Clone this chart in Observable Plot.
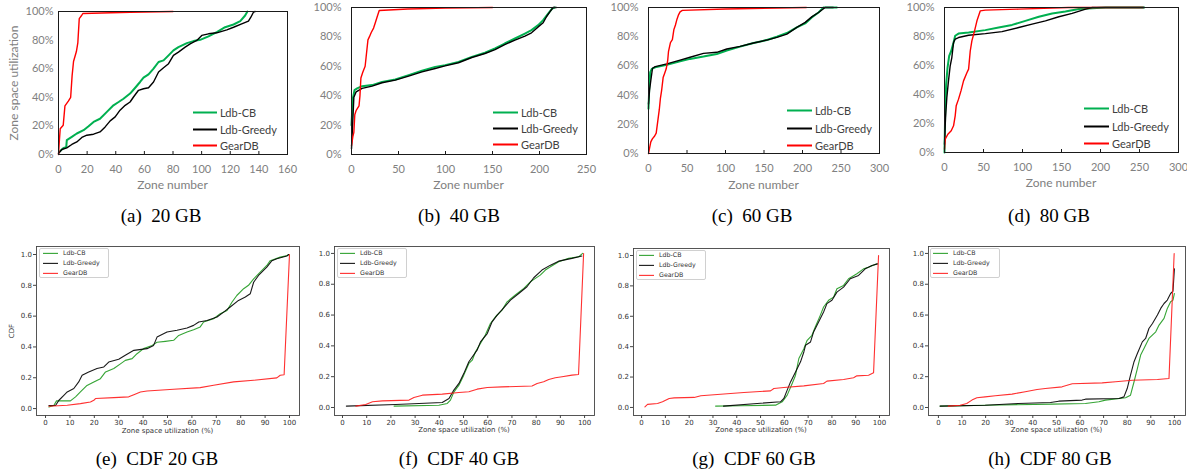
<!DOCTYPE html>
<html><head><meta charset="utf-8">
<script src="https://cdn.jsdelivr.net/npm/d3@7"></script>
<script src="https://cdn.jsdelivr.net/npm/@observablehq/plot@0.6"></script>
<style>
body{margin:0;background:#fff}
#root{position:relative;width:1187px;height:469px;overflow:hidden;background:#fff}
.chart{position:absolute}
.chart svg{overflow:visible}
.cap{position:absolute;font-family:"Liberation Serif","Times New Roman",serif;font-size:19px;color:#000;white-space:pre;transform:translate(-50%,-50%);line-height:1}
.ttl{position:absolute;white-space:nowrap;transform:translate(-50%,-50%);line-height:1}
</style></head><body><div id="root"></div>
<script>
const seriesNames = ["Ldb-CB", "Ldb-Greedy", "GearDB"];
const topColors = ["#00b050", "#000000", "#ff0000"];
const cdfColors = ["#1f9a1f", "#000000", "#ff1a1a"];

const zoneTicks160 = [0, 20, 40, 60, 80, 100, 120, 140, 160];
const zoneTicks250 = [0, 50, 100, 150, 200, 250];
const zoneTicks300 = [0, 50, 100, 150, 200, 250, 300];
const utilTicks = [0, 20, 40, 60, 80, 100];
const cdfXTicks = [0, 10, 20, 30, 40, 50, 60, 70, 80, 90, 100];
const cdfYTicks = [0, 0.2, 0.4, 0.6, 0.8, 1.0];
const captionsTop = ["(a)  20 GB", "(b)  40 GB", "(c)  60 GB", "(d)  80 GB"];
const captionsBottom = ["(e)  CDF 20 GB", "(f)  CDF 40 GB", "(g)  CDF 60 GB", "(h)  CDF 80 GB"];

// [zone number, zone space utilization %]
const zone20_cb = [[0.7,2],[3.5,4.6],[5.4,5],[5.8,10],[9.3,12.3],[12.8,14.7],[17.5,17],[21,19.8],[24.5,22.8],[29,25],[33.8,29.8],[38.4,34.4],[42,36.7],[45.4,39],[50,42.6],[53.6,46.7],[57,50.7],[59.4,53.7],[62.9,56],[66.4,60],[69.9,64.7],[73.4,65.8],[76.9,69.3],[80.3,72.8],[83.8,75.1],[89.7,77.9],[94.3,79.3],[99,80.2],[104.8,82.6],[110.6,85.6],[116.4,89],[122.3,90.9],[127,93.3],[130.4,97.2],[132,100]];
const zone20_greedy = [[0,0.7],[2.3,3.5],[5.8,4.6],[9.3,7],[12.8,8.8],[16.3,11.9],[19.8,13.5],[24.5,14.2],[29,15.8],[32.6,19.3],[36.1,23.5],[39.6,26.3],[43,31],[46.6,34.4],[50,36.7],[52.4,40.2],[55.9,44.9],[59.4,46],[62.9,46.7],[66.4,50.7],[69.9,57.7],[73.4,60.7],[76.9,63.5],[80.3,69.3],[83.8,71.6],[88.5,75.1],[92,77.4],[96.6,79.8],[100.1,83.3],[104.8,84.4],[110.6,85.1],[117.6,87.2],[122.3,89],[128,91.4],[132.7,93.3],[134.4,96],[136.2,99.5],[137.4,100]];
const zone20_gear = [[0,0],[0.5,8],[1.2,18],[3.3,20.5],[4.5,34],[7,37.5],[8.5,40],[9.5,55],[10.5,65],[12.5,72],[13.5,78],[14.5,95],[16,97],[17,98.6],[30,99],[50,99.5],[80,100]];

const zone40_cb = [[0,20],[1.4,38],[3.2,43.8],[6,45],[11.3,46.5],[21.9,47.2],[32.5,49.4],[46.6,51],[60.8,54],[75,57],[89,59.6],[99.6,60.8],[113.8,63],[128,66.4],[142,69.2],[152.7,72.1],[163,75.5],[173.9,78.9],[184.5,82.3],[191.5,84.6],[198.6,88],[203.9,91.4],[209.2,95.9],[213.4,99.3],[216.3,100]];
const zone40_greedy = [[0,4],[1.4,23],[2.5,39],[4.9,42.6],[11.3,45],[21.9,46.5],[32.5,48.8],[46.6,50.6],[60.8,53.3],[75,56.2],[89,58.5],[99.6,60.3],[113.8,62.4],[128,66],[142,68.7],[152.7,71.4],[163,74.8],[173.9,77.8],[184.5,80.5],[191.5,82.8],[198.6,86.8],[203.9,89.6],[207.4,93.7],[211,97],[214.5,100],[218,100]];
const zone40_gear = [[0,6],[1.4,12],[2.5,15],[3.5,27],[5,30],[8,33],[9,40],[10,52],[12,56],[14.5,60],[15.5,66],[17.5,78],[19,80],[21,83],[23.5,86],[25.5,90],[27.5,94],[29.5,98],[60,99],[100,99.6],[150,100]];

const zone60_cb = [[0,30.7],[0.9,44],[2.2,55.7],[4.3,58],[8.7,59],[23.8,60.7],[41,63.2],[54,64.8],[71.4,66.4],[88.7,68.2],[101.7,70.5],[119,73.2],[136.4,75.7],[153.7,77.7],[166.7,80],[179.7,82.5],[192.6,86.4],[203.5,89.1],[212,93.2],[220.8,96.6],[227.3,100],[244.6,100]];
const zone60_greedy = [[0,34],[1.3,43.2],[3,50],[5.2,58.4],[8.7,59.5],[23.8,61.4],[41,64],[54,65.9],[71.4,68.6],[88.7,69.3],[101.7,71.6],[119,73.4],[136.4,75.7],[153.7,77.7],[166.7,79.5],[179.7,81.8],[192.6,86.4],[203.5,89.8],[212,93.6],[220.8,96.6],[229.4,100],[240,100]];
const zone60_gear = [[0,0],[1.5,4],[3,8],[5,10],[8,12],[10,14],[12,22],[14,30],[15.5,38],[17,43],[19,52],[21,55],[23,58],[25,64],[26,70],[28.5,76],[31,78],[33,85],[35,88],[37,92],[39,95],[41,97],[44,98],[100,99],[205,100]];

const zone80_cb = [[0,0],[0.9,28.7],[2.1,47],[3.9,58.6],[6,66.7],[8.6,70],[11.6,75.9],[13.7,80.5],[18,82],[30.9,82.8],[52.3,84.4],[69.4,86.2],[86.6,88],[103.7,90.8],[120.9,93.6],[138,95.9],[155,97.2],[172.3,98.9],[189.5,99.5],[206.6,100],[255.9,100]];
const zone80_greedy = [[0,5.7],[1.3,24],[3,38],[5.1,49.4],[7.3,59.8],[9.4,65.5],[11.6,75.9],[13.7,78.2],[18,79.3],[30.9,80.9],[52.3,82],[73.7,83.4],[95.2,86.2],[112.3,88.5],[129.4,90.8],[146.6,93.6],[163.7,95.9],[180.9,98.9],[189.5,100],[255.9,100]];
const zone80_gear = [[0,2.3],[0.9,9.2],[4.3,12.6],[8.6,15],[11.6,18.4],[13.7,25.3],[15,32.2],[18,36.8],[21.4,43],[24.4,49.4],[28.7,55],[30.9,57.5],[33,70],[35.1,77],[38.6,84],[41.6,90.8],[45.9,97.7],[52.3,98.2],[95.2,98.9],[159,100],[254.6,100]];

// [zone space utilization %, CDF]
const cdf20_cb = [[1.4,0.01],[3.4,0.02],[4.5,0.05],[10.2,0.05],[12.3,0.076],[14.3,0.108],[17,0.15],[19.8,0.173],[22.5,0.194],[24.6,0.238],[28,0.26],[30.7,0.29],[32.7,0.313],[35.5,0.324],[37.5,0.356],[40.2,0.389],[43.7,0.41],[45.7,0.43],[49.1,0.436],[52.5,0.443],[54.6,0.475],[58,0.497],[60.7,0.512],[63.4,0.53],[64.8,0.562],[68.9,0.583],[71.6,0.616],[74.4,0.637],[76.4,0.69],[78.4,0.734],[81.2,0.778],[83.2,0.8],[85.3,0.842],[88,0.886],[90.7,0.929],[92.1,0.96],[96.2,0.983],[99.2,0.994],[99.6,1.0]];
const cdf20_greedy = [[1.4,0.02],[4.1,0.02],[5.5,0.054],[7.5,0.086],[8.9,0.108],[11.6,0.13],[13.6,0.173],[15,0.216],[17.7,0.238],[21.1,0.26],[23.9,0.27],[25.9,0.302],[30,0.32],[32.7,0.346],[36.2,0.378],[41.6,0.389],[44.3,0.41],[45.7,0.464],[49.8,0.497],[53.9,0.508],[58,0.523],[60.7,0.54],[62.8,0.562],[66.2,0.572],[70.3,0.594],[73,0.626],[75.7,0.659],[79.1,0.702],[81.9,0.724],[83.9,0.745],[85.3,0.82],[87.3,0.864],[90.7,0.918],[92.8,0.96],[94.8,0.972],[98.9,0.99],[99.7,1.0]];
const cdf20_gear = [[1.4,0.015],[8.9,0.022],[14.3,0.032],[18.4,0.043],[19.8,0.054],[20.5,0.065],[28,0.071],[34.1,0.076],[36.2,0.09],[38.9,0.108],[41.6,0.114],[52.5,0.125],[63.4,0.136],[68.9,0.151],[77.1,0.173],[85.3,0.184],[94.8,0.199],[96.2,0.216],[97.8,0.22],[100,1.0]];

const cdf40_cb = [[21.3,0.009],[39.8,0.015],[43.3,0.026],[44.6,0.048],[46,0.1],[48.1,0.145],[50.1,0.21],[52.2,0.286],[53.6,0.307],[54.9,0.36],[57,0.416],[59,0.47],[61.1,0.545],[63.2,0.589],[65.9,0.632],[68,0.686],[71.4,0.73],[74.9,0.773],[77.6,0.816],[79.7,0.838],[81.7,0.859],[83.8,0.892],[85.9,0.913],[89.3,0.946],[93.4,0.968],[97.5,0.978],[99.2,1.0]];
const cdf40_greedy = [[1.6,0.009],[22,0.019],[41.2,0.032],[44,0.058],[46,0.113],[48.1,0.156],[50.1,0.22],[52.2,0.297],[55.6,0.372],[57,0.426],[59.8,0.48],[61.8,0.556],[63.9,0.6],[66.6,0.647],[69.4,0.697],[72.8,0.74],[76.2,0.784],[79,0.842],[82.4,0.892],[85.9,0.924],[89.3,0.95],[94.8,0.968],[98.9,0.983]];
const cdf40_gear = [[5.5,0.009],[9.6,0.019],[12.4,0.037],[16.5,0.043],[27.5,0.048],[29.5,0.065],[33,0.08],[41.2,0.087],[48.1,0.097],[52.2,0.102],[55.6,0.119],[59.8,0.13],[65.9,0.134],[78.3,0.139],[80.4,0.156],[83.1,0.167],[85.2,0.182],[87.9,0.193],[90.7,0.2],[94.8,0.21],[97.5,0.214],[99.6,1.0]];

const cdf60_cb = [[31.1,0.009],[41.6,0.011],[56.3,0.015],[59.1,0.037],[61.2,0.081],[63.3,0.158],[64.7,0.212],[66.1,0.322],[68.2,0.387],[69.6,0.442],[71.6,0.475],[73,0.53],[75.1,0.606],[76.5,0.661],[78.6,0.705],[80.7,0.726],[82.1,0.781],[84.9,0.803],[87,0.847],[90.5,0.88],[93.3,0.912],[95.4,0.923],[98.9,0.945]];
const cdf60_greedy = [[34.4,0.009],[48.6,0.026],[58.4,0.037],[59.8,0.059],[61.2,0.114],[62.6,0.168],[64.7,0.234],[66.8,0.3],[68.2,0.365],[68.9,0.409],[71,0.431],[72.3,0.497],[74.4,0.562],[76.5,0.628],[77.9,0.683],[80,0.705],[82.1,0.759],[84.9,0.792],[87.7,0.847],[91.2,0.869],[94,0.912],[96.8,0.934],[99.2,0.945]];
const cdf60_gear = [[1.4,0.004],[2.5,0.02],[6.7,0.026],[8.8,0.037],[11.6,0.059],[13.7,0.063],[22.1,0.066],[24.9,0.077],[37.4,0.092],[43,0.098],[54.2,0.109],[55.6,0.125],[59.8,0.131],[68.2,0.142],[76.5,0.158],[77.9,0.173],[84.9,0.184],[89.1,0.195],[90.5,0.208],[95.4,0.212],[97.5,0.228],[99.6,1.0]];

const cdf80_cb = [[0.7,0.009],[19.8,0.015],[48.2,0.022],[62.3,0.026],[68,0.037],[70.8,0.048],[79.3,0.063],[81.4,0.08],[82.9,0.167],[84.3,0.253],[85.7,0.34],[87.1,0.383],[89.2,0.448],[92.1,0.491],[93.5,0.535],[95.6,0.578],[97,0.643],[98.4,0.686],[99.4,0.697],[100,0.74]];
const cdf80_greedy = [[0.7,0.009],[19.8,0.015],[34,0.026],[47.5,0.032],[51,0.041],[60.9,0.048],[62.3,0.054],[76.5,0.058],[78.6,0.069],[80,0.123],[81.4,0.21],[82.9,0.297],[84.3,0.35],[86.4,0.426],[87.8,0.448],[89.2,0.513],[90.7,0.545],[92.8,0.6],[94.2,0.643],[95.6,0.675],[97,0.697],[98.4,0.74],[99.4,0.755],[100,0.9]];
const cdf80_gear = [[4.2,0.009],[9.2,0.015],[12,0.026],[14.2,0.048],[16.3,0.063],[19.8,0.069],[24.1,0.076],[31.2,0.087],[36.8,0.102],[41.8,0.117],[45.3,0.123],[52.4,0.134],[56.7,0.154],[69.4,0.16],[75.1,0.167],[82.2,0.177],[92.8,0.182],[97.7,0.188],[99.9,1.0]];

const root = document.getElementById("root");
const rows = (pairs) => pairs.map(([x, y]) => ({x, y}));

function place(el, left, top) {
  const d = document.createElement("div");
  d.className = "chart";
  d.style.left = left + "px"; d.style.top = top + "px";
  d.append(el); root.append(d);
}
function text(str, cls, x, y, css) {
  const d = document.createElement("div");
  d.className = cls; d.textContent = str;
  d.style.left = x + "px"; d.style.top = y + "px";
  if (css) d.style.cssText += css;
  root.append(d);
}
function legendRows(x, ys, lineLen, gap, colors, widths, font, size, color) {
  ys.forEach((y, i) => {
    const row = document.createElement("div");
    row.style.cssText = `position:absolute;left:${x}px;top:${y}px;transform:translateY(-50%);display:flex;align-items:center;white-space:nowrap;font-family:${font};font-size:${size}px;color:${color};line-height:1`;
    const sw = document.createElement("span");
    sw.style.cssText = `display:inline-block;width:${lineLen}px;height:${widths[i]}px;background:${colors[i]};margin-right:${gap}px`;
    row.append(sw, seriesNames[i]);
    root.append(row);
  });
}

const topWidths = [2, 1.4, 1.4];
function topChart({left, top, width, height, mt, mr, mb, ml, xMax, xTicks, series, pad}) {
  const svg = Plot.plot({
    width, height, marginTop: mt, marginRight: mr, marginBottom: mb, marginLeft: ml,
    x: {domain: [0, xMax], label: null},
    y: {domain: [0, 100], label: null},
    style: {fontFamily: "Lato, 'Open Sans', sans-serif", fontSize: "11px", background: "transparent"},
    marks: [
      ...series.map((s, i) => Plot.line(rows(s), {x: "x", y: "y", stroke: topColors[i], strokeWidth: topWidths[i]})),
      Plot.frame({stroke: "#1a1a1a", strokeWidth: 1}),
      Plot.axisX(xTicks, {tickSize: -3, tickPadding: 14, stroke: "#1a1a1a", fill: "#808080", label: null}),
      Plot.axisY(utilTicks, {tickSize: 0, tickPadding: pad, fill: "#808080", tickFormat: d => d + "%", label: null})
    ]
  });
  place(svg, left, top);
}

const cdfWidths = [1.1, 1.1, 1.1];
function cdfChart({left, top, width, height, mt, mr, mb, ml, xDomain, yDomain, series}) {
  const svg = Plot.plot({
    width, height, marginTop: mt, marginRight: mr, marginBottom: mb, marginLeft: ml,
    x: {domain: xDomain, label: null},
    y: {domain: yDomain, label: null},
    style: {fontFamily: "'DejaVu Sans', sans-serif", fontSize: "7px", background: "transparent"},
    marks: [
      ...series.map((s, i) => Plot.line(rows(s), {x: "x", y: "y", stroke: cdfColors[i], strokeWidth: cdfWidths[i], strokeOpacity: 0.9})),
      Plot.frame({stroke: "#444", strokeWidth: 0.9}),
      Plot.axisX(cdfXTicks, {tickSize: 3, tickPadding: 1.5, stroke: "#444", fill: "#333", label: null}),
      Plot.axisY(cdfYTicks, {tickSize: 3, tickPadding: 1.5, stroke: "#444", fill: "#333", tickFormat: d3.format(".1f"), label: null})
    ]
  });
  place(svg, left, top);
}

// ---- top row ----
topChart({left: 0, top: 0, width: 295, height: 200, mt: 11, mr: 8, mb: 46, ml: 58, xMax: 160, xTicks: zoneTicks160, series: [zone20_cb, zone20_greedy, zone20_gear], pad: 5});
topChart({left: 295, top: 0, width: 295, height: 200, mt: 7, mr: 4, mb: 46, ml: 56, xMax: 250, xTicks: zoneTicks250, series: [zone40_cb, zone40_greedy, zone40_gear], pad: 10});
topChart({left: 590, top: 0, width: 295, height: 200, mt: 7, mr: 6, mb: 47, ml: 58, xMax: 300, xTicks: zoneTicks300, series: [zone60_cb, zone60_greedy, zone60_gear], pad: 10});
topChart({left: 885, top: 0, width: 302, height: 200, mt: 7, mr: 9, mb: 48, ml: 59, xMax: 300, xTicks: zoneTicks300, series: [zone80_cb, zone80_greedy, zone80_gear], pad: 10});

const topFont = "Lato, 'Open Sans', sans-serif";
[[172.5, 185], [468.5, 185], [763.5, 185], [1061, 183]].forEach(([x, y]) =>
  text("Zone number", "ttl", x, y, `font-family:${topFont};font-size:12px;color:#808080`));
text("Zone space utilization", "ttl", 14, 83, `font-family:${topFont};font-size:12px;color:#808080;transform:translate(-50%,-50%) rotate(-90deg)`);

legendRows(193, [112, 129, 145], 24, 3, topColors, [2, 2, 2], topFont, 11, "#404040");
legendRows(493, [112, 128, 144], 25, 3, topColors, [2, 2, 2], topFont, 11, "#404040");
legendRows(787, [110, 128, 145], 25, 3, topColors, [2, 2, 2], topFont, 11, "#404040");
legendRows(1084, [108, 126, 143], 25, 3, topColors, [2, 2, 2], topFont, 11, "#404040");

[[161, 215], [459, 215], [752, 215], [1049, 215]].forEach(([x, y], i) => text(captionsTop[i], "cap", x, y));

// ---- bottom row ----
cdfChart({left: 0, top: 235, width: 300, height: 205, mt: 11, mr: 1, mb: 25, ml: 36, xDomain: [-3.7, 104.1], yDomain: [-0.045, 1.052], series: [cdf20_cb, cdf20_greedy, cdf20_gear]});
cdfChart({left: 300, top: 235, width: 300, height: 205, mt: 11, mr: 6, mb: 25, ml: 34, xDomain: [-3.3, 104.1], yDomain: [-0.052, 1.045], series: [cdf40_cb, cdf40_greedy, cdf40_gear]});
cdfChart({left: 600, top: 235, width: 290, height: 205, mt: 13, mr: 1, mb: 25, ml: 33, xDomain: [-3.4, 104.2], yDomain: [-0.053, 1.046], series: [cdf60_cb, cdf60_greedy, cdf60_gear]});
cdfChart({left: 895, top: 235, width: 292, height: 205, mt: 11, mr: 2, mb: 25, ml: 33, xDomain: [-4.2, 104.7], yDomain: [-0.052, 1.045], series: [cdf80_cb, cdf80_greedy, cdf80_gear]});

const cdfFont = "'DejaVu Sans', sans-serif";
[[167.5, 431], [464, 430], [761, 430], [1056.5, 430]].forEach(([x, y]) =>
  text("Zone space utilization (%)", "ttl", x, y, `font-family:${cdfFont};font-size:7px;color:#333`));
text("CDF", "ttl", 12, 331, `font-family:${cdfFont};font-size:7px;color:#333;transform:translate(-50%,-50%) rotate(-90deg)`);

[[39, 248], [337, 248], [636, 250], [930, 248]].forEach(([x, y]) => {
  const b = document.createElement("div");
  b.style.cssText = `position:absolute;left:${x}px;top:${y}px;width:70px;height:30px;border:1px solid #d0d0d0;border-radius:2px;background:rgba(255,255,255,0.8);box-sizing:border-box`;
  root.append(b);
});
legendRows(43, [253, 263, 273], 15, 5, cdfColors, [1.2, 1.2, 1.2], cdfFont, 6.3, "#333");
legendRows(340, [253, 263, 273], 15, 5, cdfColors, [1.2, 1.2, 1.2], cdfFont, 6.3, "#333");
legendRows(639, [255, 265, 275], 15, 5, cdfColors, [1.2, 1.2, 1.2], cdfFont, 6.3, "#333");
legendRows(933, [253, 263, 273], 15, 5, cdfColors, [1.2, 1.2, 1.2], cdfFont, 6.3, "#333");

[[157, 458], [459, 458], [754, 458], [1050, 458]].forEach(([x, y], i) => text(captionsBottom[i], "cap", x, y));
</script></body></html>
